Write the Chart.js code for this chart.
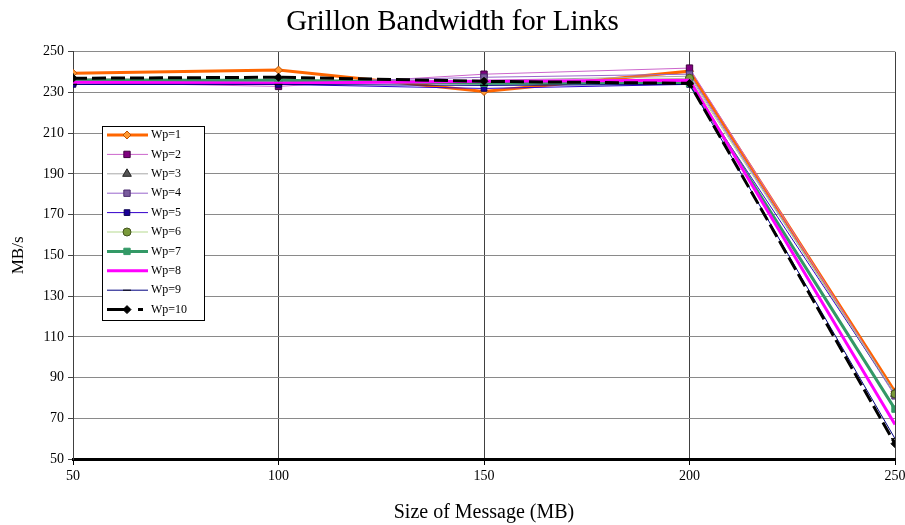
<!DOCTYPE html>
<html>
<head>
<meta charset="utf-8">
<script src="https://cdn.jsdelivr.net/npm/chart.js@4/dist/chart.umd.min.js"></script>
<style>
	html, body { margin: 0; padding: 0; background: #fff; }
	#wrap { width: 905px; height: 525px; }
</style>
</head>
<body>
<div id="wrap"><canvas id="myChart" width="905" height="525"></canvas></div>
<script>
const SIZES = [50, 100, 150, 200, 250]
const SERIES_NAMES = ['Wp=1', 'Wp=2', 'Wp=3', 'Wp=4', 'Wp=5', 'Wp=6', 'Wp=7', 'Wp=8', 'Wp=9', 'Wp=10']

const WP1 = [239.5, 241, 230.5, 240.5, 83]
const WP2 = [235, 233, 239, 242, 82]
const WP3 = [237, 236, 236, 238, 82]
const WP4 = [236, 235, 237.5, 239, 81]
const WP5 = [234, 234, 232, 234, 82]
const WP6 = [236, 236, 235, 237, 82]
const WP7 = [236, 236, 234.5, 234.5, 74.5]
const WP8 = [235, 234.5, 235.5, 236, 67]
const WP9 = [234, 234, 233.5, 234, 60]
const WP10 = [237, 237.5, 235.5, 234.5, 57.5]

const Y_TICKS = [50, 70, 90, 110, 130, 150, 170, 190, 210, 230, 250]

const FONT = "'Liberation Serif', 'DejaVu Serif', serif"

// line / marker look for each series, same order as SERIES_NAMES
const STYLES = [
	{ line: '#FF6600', width: 3, point: 'rectRot', r: 4, fill: '#FF9933', stroke: '#C05000' },
	{ line: '#CC66CC', width: 1, point: 'rect', r: 4.5, fill: '#800080', stroke: '#400040' },
	{ line: '#A8A8A8', width: 1, point: 'triangle', r: 5, fill: '#555555', stroke: '#222222' },
	{ line: '#9966CC', width: 1, point: 'rect', r: 4.5, fill: '#7A5C9E', stroke: '#4B2C6E' },
	{ line: '#3300CC', width: 1, point: 'rect', r: 4, fill: '#1A0099', stroke: '#0A0050' },
	{ line: '#B5D98F', width: 1, point: 'circle', r: 4, fill: '#7A9A3A', stroke: '#44551F' },
	{ line: '#339966', width: 3, point: 'rect', r: 4.5, fill: '#339966', stroke: '#339966' },
	{ line: '#FF00FF', width: 3, point: false, r: 0, fill: '#FF00FF', stroke: '#FF00FF' },
	{ line: '#000080', width: 1, point: 'line', r: 4, fill: '#000000', stroke: '#000000' },
	{ line: '#000000', width: 3, point: 'rectRot', r: 4, fill: '#000000', stroke: '#000000', dash: [14, 5] }
]

const VALUES = [WP1, WP2, WP3, WP4, WP5, WP6, WP7, WP8, WP9, WP10]

const datasets = SERIES_NAMES.map((label, i) => {
	const s = STYLES[i]
	return {
		label,
		data: SIZES.map((x, k) => ({ x, y: VALUES[i][k] })),
		borderColor: s.line,
		borderWidth: s.width,
		borderDash: s.dash || [],
		pointStyle: s.point,
		pointRadius: s.r,
		pointBackgroundColor: s.fill,
		pointBorderColor: s.stroke,
		pointBorderWidth: 1,
		tension: 0,
		order: SERIES_NAMES.length - i
	}
})

// boxed legend sitting inside the plot, like the spreadsheet original
const boxLegend = {
	id: 'boxLegend',
	afterDraw(chart) {
		const ctx = chart.ctx
		const left = 102, top = 126, w = 102, h = 194, step = 19.4
		ctx.save()
		ctx.fillStyle = '#fff'
		ctx.fillRect(left, top, w, h)
		ctx.strokeStyle = '#000'
		ctx.lineWidth = 1
		ctx.strokeRect(left + 0.5, top + 0.5, w, h)
		chart.data.datasets.forEach((ds, i) => {
			const y = top + 9 + i * step
			ctx.save()
			ctx.strokeStyle = ds.borderColor
			ctx.lineWidth = ds.borderWidth
			ctx.beginPath()
			if (ds.borderDash.length) {
				ctx.moveTo(107, y); ctx.lineTo(130, y)
				ctx.moveTo(138, y); ctx.lineTo(143, y)
			} else {
				ctx.moveTo(107, y); ctx.lineTo(148, y)
			}
			ctx.stroke()
			ctx.restore()
			if (ds.pointStyle) {
				ctx.save()
				ctx.fillStyle = ds.pointBackgroundColor
				ctx.strokeStyle = ds.pointBorderColor
				ctx.lineWidth = 1
				Chart.helpers.drawPoint(ctx, { pointStyle: ds.pointStyle, radius: ds.pointRadius, rotation: 0, borderWidth: 1 }, 127, y)
				ctx.restore()
			}
			ctx.fillStyle = '#000'
			ctx.font = '12px ' + FONT
			ctx.textBaseline = 'middle'
			ctx.fillText(ds.label, 151, y)
		})
		ctx.restore()
	}
}

const CHART = new Chart(document.getElementById('myChart'), {
	type: 'line',
	data: { datasets },
	options: {
		responsive: false,
		animation: false,
		layout: { padding: { left: 0, right: 0, top: 0, bottom: 0 } },
		scales: {
			x: {
				type: 'linear',
				min: 50,
				max: 250,
				afterBuildTicks(scale) { scale.ticks = SIZES.map(value => ({ value })) },
				afterFit(scale) {
					scale.height = 66
					scale.paddingLeft = 0
					scale.paddingRight = 10
				},
				grid: { color: '#404040', lineWidth: 1, tickLength: 6, tickColor: '#000' },
				border: { color: '#000', width: 3 },
				ticks: { color: '#000', font: { family: FONT, size: 14 }, padding: 3, maxRotation: 0 },
				title: { display: true, text: 'Size of Message (MB)', color: '#000', font: { family: FONT, size: 20 }, padding: { top: 9, bottom: 0 } }
			},
			y: {
				min: 50,
				max: 250,
				afterBuildTicks(scale) { scale.ticks = Y_TICKS.map(value => ({ value })) },
				afterFit(scale) { scale.width = 73 },
				grid: { color: '#8a8a8a', lineWidth: 1, tickLength: 5, tickColor: '#444' },
				border: { color: '#404040', width: 1 },
				ticks: { color: '#000', font: { family: FONT, size: 14 }, padding: 4 },
				title: { display: true, text: 'MB/s', color: '#000', font: { family: FONT, size: 17 }, padding: { top: 8, bottom: 10 } }
			}
		},
		plugins: {
			legend: { display: false },
			tooltip: { enabled: false },
			title: {
				display: true,
				text: 'Grillon Bandwidth for Links',
				color: '#000',
				font: { family: FONT, size: 29, weight: 'normal' },
				lineHeight: 1.2,
				padding: { top: 5, bottom: 12 }
			}
		}
	},
	plugins: [boxLegend]
})
</script>
</body>
</html>
